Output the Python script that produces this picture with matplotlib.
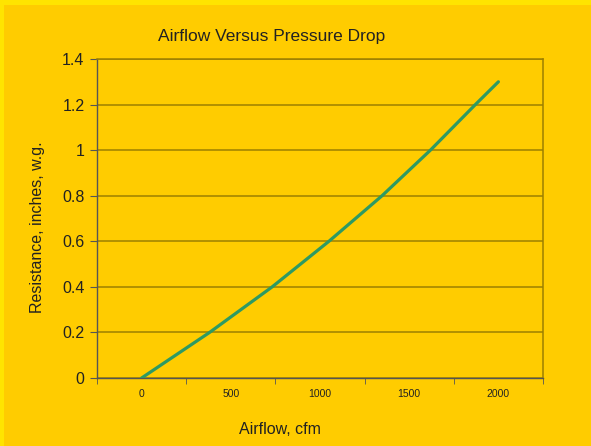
import matplotlib.pyplot as plt
from matplotlib.patches import Rectangle
from matplotlib.ticker import FixedLocator

# values
airflow = [0, 381, 732, 1050, 1348, 1619, 1871, 2000]
resistance = [0, 0.2, 0.4, 0.6, 0.8, 1.0, 1.2, 1.3]
x_ticks = [0, 500, 1000, 1500, 2000]
y_ticks = [0, 0.2, 0.4, 0.6, 0.8, 1, 1.2, 1.4]

plt.rcParams['font.family'] = ['Liberation Sans', 'DejaVu Sans']

fig = plt.figure(figsize=(5.91, 4.46), dpi=100, facecolor='#FFCC00')
# thin bright border on top and left only
fig.patches.append(Rectangle((0, 0), 4 / 591, 1, transform=fig.transFigure,
                             facecolor='#FFE400', edgecolor='none'))
fig.patches.append(Rectangle((0, 1 - 5 / 446), 1, 5 / 446, transform=fig.transFigure,
                             facecolor='#FFE400', edgecolor='none'))

ax = fig.add_axes([97 / 591, 1 - 378 / 446, 446 / 591, 319 / 446])
ax.set_facecolor('#FFCC00')

grid_col = '#9C8000'
ax.plot(airflow, resistance, color='#2E9A63', linewidth=2.3, solid_capstyle='round', zorder=3)

ax.set_xlim(-250, 2250)
ax.set_ylim(0, 1.4)
ax.set_yticks(y_ticks)
ax.set_yticklabels(['0', '0.2', '0.4', '0.6', '0.8', '1', '1.2', '1.4'], fontsize=11.5, color='#222222')
ax.set_xticks(x_ticks)
ax.set_xticklabels([str(v) for v in x_ticks], fontsize=7.5, color='#222222')
ax.xaxis.set_minor_locator(FixedLocator([-250, 250, 750, 1250, 1750, 2250]))
ax.tick_params(axis='x', which='major', length=0, pad=8)
ax.tick_params(axis='x', which='minor', length=4, color='#555555', direction='out')
ax.tick_params(axis='y', length=5, color='#555555', direction='out', pad=4)

ax.grid(axis='y', color=grid_col, linewidth=1.1)
ax.set_axisbelow(True)
for s in ['top', 'right']:
    ax.spines[s].set_color(grid_col)
    ax.spines[s].set_linewidth(1.1)
for s in ['left', 'bottom']:
    ax.spines[s].set_color('#555555')
    ax.spines[s].set_linewidth(1.0)

fig.text(272 / 591, 1 - 36 / 446, 'Airflow Versus Pressure Drop', ha='center', va='center',
         fontsize=12.5, color='#222222')
fig.text(280 / 591, 1 - 430 / 446, 'Airflow, cfm', ha='center', va='center',
         fontsize=11.5, color='#222222')
fig.text(38 / 591, 1 - 227 / 446, 'Resistance, inches, w.g.', ha='center', va='center',
         rotation=90, fontsize=11.5, color='#222222')

fig.savefig('out.png', dpi=100, facecolor=fig.get_facecolor())
